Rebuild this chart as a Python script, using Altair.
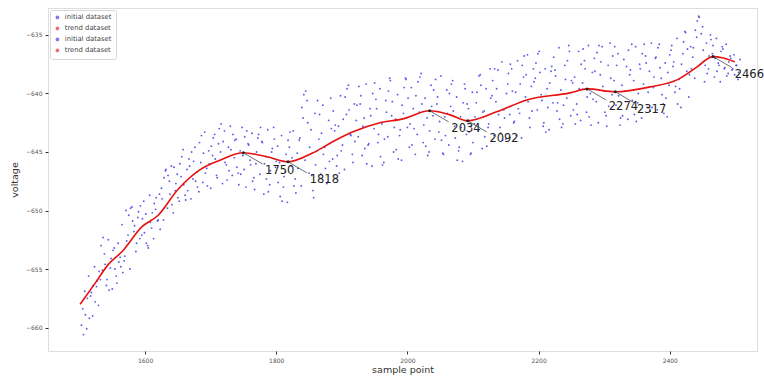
import altair as alt
import pandas as pd

# ---- data ----
sample_start = 1503
sample_start_b = 1505
sample_step = 3
voltage = [
    -659.8, -660.6, -658.9, -657.5, -659.2, -657.0, -656.4, -657.8, -656.0, -655.2,
    -653.0, -652.3, -654.6, -655.9, -656.8, -654.1, -653.4, -655.0, -656.2, -654.4,
    -654.8, -655.3, -653.9, -652.6, -650.4, -649.8, -650.9, -651.3, -652.8, -650.1,
    -649.6, -650.7, -651.9, -652.8, -653.2, -651.0, -650.2, -649.4, -648.9, -650.8,
    -651.6, -649.0, -647.2, -646.5, -647.0, -648.6, -649.5, -646.3, -647.7, -648.9,
    -646.0, -645.4, -647.8, -649.1, -648.3, -646.2, -645.0, -645.8, -647.5, -648.0,
    -644.2, -643.6, -645.1, -646.8, -647.9, -646.0, -644.5, -643.8, -645.6, -647.2,
    -643.0, -642.6, -644.1, -645.9, -647.4, -646.6, -644.8, -643.5, -644.0, -646.3,
    -647.8, -646.9, -645.3, -643.7, -643.2, -644.4, -646.1, -647.5, -648.2, -645.0,
    -643.5, -642.9, -644.2, -646.0, -647.3, -648.4, -646.6, -644.7, -643.9, -645.8,
    -647.6, -648.8, -649.2, -647.1, -645.2, -644.0, -643.3, -645.5, -647.9, -648.5,
    -646.4, -643.8, -641.2, -640.1, -639.8, -642.5, -644.6, -647.0, -648.9, -646.1,
    -640.6, -641.8, -643.4, -645.2, -646.4, -647.6, -645.8, -643.0, -641.5, -642.7,
    -645.3, -646.8, -644.9, -642.2, -640.3, -639.6, -641.4, -643.6, -645.9, -644.1,
    -641.0, -639.4, -640.2, -642.8, -644.7, -646.0, -644.3, -641.9, -640.0, -639.1,
    -641.3, -643.5, -645.4, -646.1, -643.9, -641.6, -639.8, -638.9, -640.7, -642.9,
    -644.8, -645.6, -643.1, -641.0, -639.5, -638.8, -640.4, -642.6, -644.4, -643.0,
    -640.2, -639.0, -638.6, -640.9, -642.7, -644.5, -645.3, -643.2, -641.1, -639.7,
    -638.8, -640.3, -642.4, -644.0, -645.2, -643.6, -641.7, -640.0, -639.2, -641.5,
    -643.8, -645.7, -644.6, -642.9, -640.8, -639.6, -640.9, -643.3, -645.1, -644.2,
    -642.0, -639.9, -638.5, -639.3, -641.6, -643.7, -644.5, -642.6, -640.4, -638.9,
    -637.9, -639.6, -641.8, -643.4, -644.0, -642.1, -640.0, -638.3, -637.5, -639.8,
    -642.4, -643.6, -641.3, -639.2, -637.6, -636.8, -638.4, -640.7, -642.9, -641.5,
    -639.0, -637.4, -636.6, -638.2, -640.6, -642.5, -643.3, -641.2, -639.1, -637.7,
    -636.9, -638.5, -640.8, -642.2, -642.9, -641.0, -638.8, -637.2, -636.4, -638.9,
    -641.4, -642.6, -641.8, -639.6, -637.5, -636.2, -637.9, -640.3, -642.0, -642.7,
    -640.5, -638.1, -636.5, -635.9, -637.3, -639.4, -641.6, -642.8, -641.1, -638.7,
    -636.8, -636.0, -637.6, -640.2, -642.1, -641.9, -639.8, -637.7, -636.3, -638.0,
    -640.6, -641.8, -642.4, -640.0, -637.9, -636.6, -635.8, -637.4, -639.9, -641.5,
    -641.2, -638.6, -636.9, -636.1, -637.8, -640.1, -641.7, -640.4, -638.2, -636.7,
    -635.9, -637.3, -639.4, -640.9, -639.6, -637.5, -635.6, -634.8, -636.2, -638.4,
    -637.9, -636.1, -634.6, -633.8, -633.5, -634.9, -636.3, -637.6, -638.3, -636.8,
    -635.4, -635.9, -637.0, -638.1, -637.6, -636.4, -636.2, -637.8, -638.5, -637.3,
    -637.0, -637.9, -638.4, -637.6, -638.2,
]
voltage_b = [
    -658.4, -656.9, -660.1, -655.6, -657.3, -659.0, -654.8, -656.5, -658.1, -655.9,
    -655.1, -653.7, -656.4, -652.5, -654.9, -656.7, -653.2, -655.6, -652.8, -654.0,
    -651.2, -654.3, -650.0, -652.1, -655.0, -649.7, -651.8, -653.5, -650.6, -652.4,
    -652.1, -649.2, -650.3, -653.0, -648.7, -651.5, -652.4, -649.9, -650.9, -648.6,
    -648.1, -650.8, -646.6, -649.8, -647.5, -646.2, -650.2, -648.3, -646.9, -649.2,
    -647.1, -644.8, -648.7, -646.5, -645.6, -649.0, -647.3, -644.6, -646.7, -648.4,
    -645.9, -647.6, -643.3, -646.4, -644.9, -648.1, -645.3, -643.5, -647.0, -644.3,
    -645.0, -647.7, -643.2, -646.1, -644.6, -642.8, -647.0, -645.5, -643.9, -646.8,
    -644.9, -642.9, -646.5, -648.0, -644.3, -645.7, -643.4, -647.2, -646.0, -643.8,
    -646.9, -644.1, -648.6, -645.4, -643.1, -647.8, -645.0, -642.9, -646.3, -644.5,
    -645.9, -643.6, -648.0, -646.7, -649.3, -644.6, -646.2, -643.2, -647.3, -645.1,
    -644.0, -647.9, -642.1, -645.7, -640.6, -646.8, -643.1, -648.3, -641.7, -644.9,
    -643.9, -646.9, -641.0, -644.6, -647.7, -642.3, -640.4, -645.6, -643.2, -646.2,
    -642.8, -640.2, -644.4, -646.5, -641.8, -639.3, -643.5, -645.2, -640.9, -642.3,
    -643.7, -640.9, -645.3, -642.1, -639.2, -644.4, -641.3, -646.2, -643.0, -640.5,
    -644.2, -639.6, -642.6, -645.9, -640.6, -643.7, -638.7, -641.9, -645.0, -642.2,
    -640.1, -643.6, -645.7, -641.7, -638.7, -642.9, -644.6, -639.5, -641.3, -645.2,
    -643.5, -641.6, -638.3, -644.2, -640.4, -642.1, -645.0, -639.3, -641.9, -643.9,
    -640.9, -643.3, -638.5, -645.1, -642.0, -639.7, -644.4, -641.1, -638.9, -642.8,
    -640.3, -644.9, -642.0, -645.8, -639.2, -643.5, -641.3, -645.2, -639.9, -642.6,
    -640.8, -643.2, -638.4, -644.7, -641.5, -639.6, -642.9, -637.9, -640.2, -643.6,
    -640.7, -638.0, -642.9, -637.3, -641.4, -643.9, -639.2, -641.8, -637.9, -642.5,
    -639.9, -637.2, -641.7, -643.8, -638.6, -640.3, -636.7, -642.1, -639.4, -637.9,
    -638.7, -641.4, -636.4, -640.1, -642.8, -637.9, -639.6, -643.1, -638.1, -640.8,
    -638.0, -641.5, -636.1, -639.7, -642.6, -637.6, -640.4, -635.9, -641.9, -639.1,
    -638.6, -640.9, -636.4, -642.3, -639.1, -637.2, -641.6, -635.9, -640.0, -638.2,
    -637.0, -640.7, -642.5, -638.4, -636.0, -639.8, -641.9, -637.6, -635.7, -640.1,
    -638.9, -641.0, -636.6, -642.7, -639.3, -637.1, -640.7, -642.2, -638.4, -635.8,
    -638.9, -636.0, -640.8, -637.5, -642.1, -639.2, -636.8, -641.2, -638.1, -635.7,
    -639.5, -637.0, -641.4, -635.8, -638.7, -640.9, -637.4, -642.0, -639.3, -636.3,
    -637.7, -639.9, -635.3, -638.8, -641.2, -636.6, -634.7, -638.1, -640.3, -636.0,
    -636.9, -638.7, -635.2, -633.4, -637.5, -634.3, -639.0, -635.7, -637.9, -635.0,
    -636.6, -638.6, -635.3, -637.4, -639.0, -636.0, -637.9, -635.8, -638.3, -636.8,
    -638.0, -636.7, -637.6, -638.8, -637.1,
]
trend_sample = [1501, 1524, 1544, 1565, 1595, 1620, 1650, 1684, 1714, 1750, 1786,
                1818, 1856, 1886, 1917, 1958, 1993, 2034, 2065, 2092, 2136, 2182,
                2248, 2274, 2317, 2370, 2411, 2440, 2466, 2480, 2499]
trend_voltage = [-658.0, -656.2, -654.6, -653.5, -651.4, -650.4, -648.2, -646.5,
                 -645.7, -645.07, -645.41, -645.84, -645.07, -644.13, -643.28,
                 -642.51, -642.17, -641.48, -641.83, -642.34, -641.57, -640.55,
                 -639.95, -639.61, -639.86, -639.44, -638.84, -637.8, -636.85,
                 -636.95, -637.3]
extrema_sample = [1750, 1818, 2034, 2092, 2274, 2317, 2466]
x_ticks = [1600, 1800, 2000, 2200, 2400]
y_ticks = [-635, -640, -645, -650, -655, -660]
legend_labels = ["initial dataset", "trend dataset", "initial dataset ", "trend dataset "]

scatter_df = pd.concat([
    pd.DataFrame({"sample": [sample_start + sample_step * i for i in range(len(voltage))],
                  "voltage": voltage}),
    pd.DataFrame({"sample": [sample_start_b + sample_step * i for i in range(len(voltage_b))],
                  "voltage": voltage_b}),
], ignore_index=True)
scatter_df["series"] = legend_labels[0]
trend_df = pd.DataFrame({"sample": trend_sample, "voltage": trend_voltage,
                         "series": legend_labels[1]})
ext_df = trend_df[trend_df["sample"].isin(extrema_sample)].copy()
ext_df["label"] = ext_df["sample"].astype(str)

xs = alt.Scale(domain=[1452, 2533], nice=False, zero=False)
ys = alt.Scale(domain=[-662.0, -632.7], nice=False, zero=False)
cs = alt.Scale(domain=legend_labels, range=["#2525e0", "#e81010", "#2525e0", "#e81010"])

x_axis = alt.Axis(values=x_ticks, format="d", title="sample point", grid=False,
                  labelFontSize=6, titleFontSize=9.5, labelColor="#555",
                  titleColor="#333", tickSize=3, tickColor="#333", domain=False,
                  titlePadding=1, labelPadding=3, titleFontWeight="normal",
                  labelFont="DejaVu Sans", titleFont="DejaVu Sans")
y_axis = alt.Axis(values=y_ticks, format="d", title="voltage", grid=False,
                  labelFontSize=6, titleFontSize=9.5, labelColor="#555",
                  titleColor="#333", tickSize=3, tickColor="#333", domain=False,
                  titlePadding=6, labelPadding=3, titleFontWeight="normal",
                  labelFont="DejaVu Sans", titleFont="DejaVu Sans")

legend = alt.Legend(title=None, orient="top-left", offset=2, labelFontSize=6.8,
                    labelColor="#444", labelFont="DejaVu Sans", symbolType="circle",
                    symbolSize=5, fillColor="white", strokeColor="#d8d8d8",
                    padding=4, rowPadding=2, cornerRadius=2, symbolOpacity=0.6)

points = alt.Chart(scatter_df).mark_circle(size=3.5, opacity=0.75).encode(
    x=alt.X("sample:Q", scale=xs, axis=x_axis),
    y=alt.Y("voltage:Q", scale=ys, axis=y_axis),
    color=alt.Color("series:N", scale=cs, legend=legend),
)

line = alt.Chart(trend_df).mark_line(strokeWidth=1.6, interpolate="monotone").encode(
    x=alt.X("sample:Q", scale=xs),
    y=alt.Y("voltage:Q", scale=ys),
    color=alt.Color("series:N", scale=cs, legend=legend),
)

ext_base = alt.Chart(ext_df).transform_calculate(
    lx="datum.sample + 29", ly="datum.voltage - 0.95",
    tx="datum.sample + 33", ty="datum.voltage - 1.8",
)

dots = ext_base.mark_circle(size=9, color="#222", opacity=1).encode(
    x=alt.X("sample:Q", scale=xs), y=alt.Y("voltage:Q", scale=ys))

arrows = ext_base.mark_rule(color="#333", strokeWidth=0.7).encode(
    x=alt.X("sample:Q", scale=xs), y=alt.Y("voltage:Q", scale=ys),
    x2="lx:Q", y2="ly:Q")

labels = ext_base.mark_text(align="left", baseline="alphabetic", fontSize=11.5,
                            font="DejaVu Sans", color="#222").encode(
    x=alt.X("tx:Q", scale=xs), y=alt.Y("ty:Q", scale=ys), text="label:N")

chart = alt.layer(points, line, dots, arrows, labels).properties(
    width=709, height=343,
    autosize=alt.AutoSizeParams(type="none"),
    padding={"left": 48, "top": 8, "right": 7, "bottom": 26},
).configure_view(stroke="#222", strokeWidth=1).configure(background="white")

chart.save("out.html", embed_options={"renderer": "svg", "actions": False})
